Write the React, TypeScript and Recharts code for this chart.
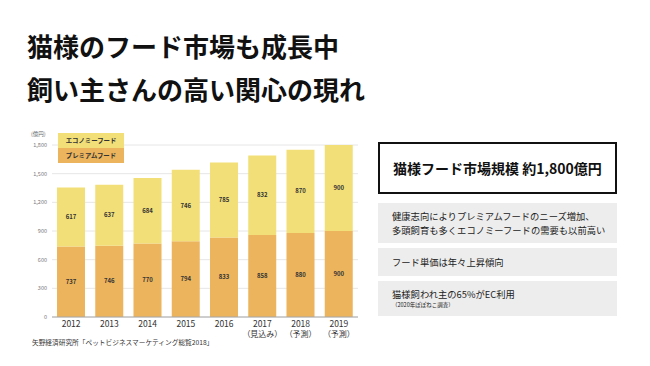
import { BarChart, Bar, XAxis, YAxis, CartesianGrid, LabelList } from 'recharts';

const years = ['2012', '2013', '2014', '2015', '2016', '2017', '2018', '2019'];
const yearNotes = ['', '', '', '', '', '（見込み）', '（予測）', '（予測）'];
const premium = [737, 746, 770, 794, 833, 858, 880, 900];
const economy = [617, 637, 684, 746, 785, 832, 870, 900];
const yTicks = [0, 300, 600, 900, 1200, 1500, 1800];

const PREMIUM = '#ECB45C';
const ECONOMY = '#F2DF78';
const FONT = '"Noto Sans CJK JP", "Noto Sans", sans-serif';

const data = years.map((year, i) => ({
  year,
  note: yearNotes[i],
  premium: premium[i],
  economy: economy[i],
}));

// two-line year label: year, then (見込み)/(予測) under it
const YearTick = ({ x, y, payload, index }: any) => (
  <g>
    <text x={x} y={y + 2} textAnchor="middle" fontSize={8.5} fill="#333" fontFamily={FONT}>
      {payload.value}
    </text>
    {yearNotes[index] ? (
      <text x={x} y={y + 12} textAnchor="middle" fontSize={8} fill="#333" fontFamily={FONT}>
        {yearNotes[index]}
      </text>
    ) : null}
  </g>
);

const box = (top: number, height: number): React.CSSProperties => ({
  position: 'absolute',
  left: 378,
  top,
  width: 239,
  height,
  background: '#EDEDED',
  boxSizing: 'border-box',
  paddingLeft: 14,
  display: 'flex',
  flexDirection: 'column',
  justifyContent: 'center',
  fontSize: 9.3,
  color: '#222',
  lineHeight: '14px',
});

export default function App() {
  return (
    <div style={{ position: 'relative', width: 650, height: 366, background: '#fff', fontFamily: FONT, overflow: 'hidden' }}>
      <style>{'body{margin:0}'}</style>
      <div style={{ position: 'absolute', left: 27, top: 24, fontSize: 26, fontWeight: 700, lineHeight: '43px', color: '#111' }}>
        猫様のフード市場も成長中
        <br />
        飼い主さんの高い関心の現れ
      </div>

      <div style={{ position: 'absolute', left: 0, top: 0 }}>
        <BarChart width={370} height={366} data={data} margin={{ top: 145, right: 12, bottom: 0, left: 32 }}>
          <CartesianGrid vertical={false} stroke="#E6E6E6" />
          <XAxis
            dataKey="year"
            height={49}
            tickLine={false}
            axisLine={{ stroke: '#A8A8A8' }}
            tick={<YearTick />}
            interval={0}
          />
          <YAxis
            width={20}
            domain={[0, 1800]}
            ticks={yTicks}
            tickLine={false}
            axisLine={false}
            tickSize={3}
            tickMargin={2}
            tickFormatter={(v: number) => v.toLocaleString('en-US')}
            tick={{ fontSize: 5.5, fill: '#777', fontFamily: FONT }}
          />
          <Bar dataKey="premium" stackId="a" fill={PREMIUM} barSize={28} isAnimationActive={false}>
            <LabelList dataKey="premium" position="center" fontSize={6} fontWeight={700} fill="#333" fontFamily={FONT} />
          </Bar>
          <Bar dataKey="economy" stackId="a" fill={ECONOMY} barSize={28} isAnimationActive={false}>
            <LabelList dataKey="economy" position="center" fontSize={6} fontWeight={700} fill="#333" fontFamily={FONT} />
          </Bar>
        </BarChart>
      </div>

      <div style={{ position: 'absolute', left: 31, top: 130, fontSize: 5.5, color: '#666' }}>(億円)</div>

      <div style={{ position: 'absolute', left: 58, top: 133, width: 66 }}>
        <div style={{ background: ECONOMY, height: 15, fontSize: 6.4, fontWeight: 700, color: '#333', display: 'flex', alignItems: 'center', justifyContent: 'center' }}>
          エコノミーフード
        </div>
        <div style={{ background: PREMIUM, height: 15, fontSize: 6.4, fontWeight: 700, color: '#333', display: 'flex', alignItems: 'center', justifyContent: 'center' }}>
          プレミアムフード
        </div>
      </div>

      <div style={{ position: 'absolute', left: 32, top: 337, fontSize: 6.7, color: '#333' }}>
        矢野経済研究所「ペットビジネスマーケティング総覧2018」
      </div>

      <div
        style={{
          position: 'absolute',
          left: 378,
          top: 142,
          width: 239,
          height: 52,
          border: '2px solid #111',
          boxSizing: 'border-box',
          paddingLeft: 13,
          display: 'flex',
          alignItems: 'center',
          fontSize: 14,
          fontWeight: 700,
          color: '#111',
        }}
      >
        猫様フード市場規模 約1,800億円
      </div>

      <div style={box(203, 40)}>
        <div>健康志向によりプレミアムフードのニーズ増加、</div>
        <div>多頭飼育も多くエコノミーフードの需要も以前高い</div>
      </div>
      <div style={box(248, 28)}>
        <div>フード単価は年々上昇傾向</div>
      </div>
      <div style={box(281, 35)}>
        <div>猫様飼われ主の65%がEC利用</div>
        <div style={{ fontSize: 5.5, lineHeight: '9px' }}>（2020年ぽぽねこ調査）</div>
      </div>
    </div>
  );
}
